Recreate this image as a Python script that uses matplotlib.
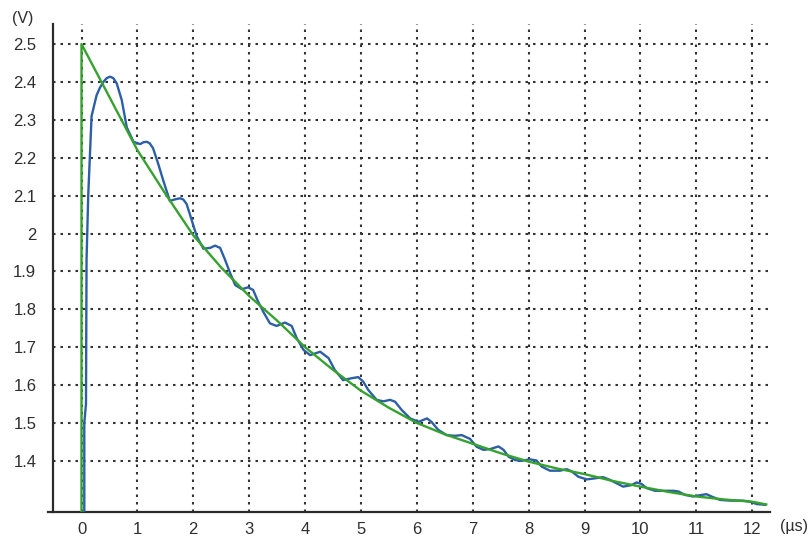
import matplotlib
matplotlib.use("Agg")
import matplotlib.pyplot as plt

plt.rcParams['font.family'] = ['Liberation Sans', 'DejaVu Sans']

# green: ideal decay (µs, V), vertical step at t=0
green_t = [0, 0, 0.5, 1, 1.5, 2, 2.5, 3, 3.5, 4, 4.5, 5, 5.5, 6, 6.5, 7, 7.5,
           8, 8.5, 9, 9.5, 10, 10.5, 11, 11.5, 12, 12.25]
green_v = [1.2, 2.5, 2.36, 2.22, 2.105, 1.995, 1.91, 1.835, 1.77, 1.70, 1.64,
           1.585, 1.54, 1.50, 1.47, 1.445, 1.42, 1.398, 1.38, 1.365, 1.347,
           1.332, 1.318, 1.306, 1.298, 1.292, 1.285]

# blue: measured waveform
blue_t = [0.05, 0.05, 0.08, 0.09, 0.12, 0.18, 0.27, 0.33, 0.39, 0.45, 0.51, 0.57, 0.63,
          0.72, 0.81, 0.93, 1.05, 1.11, 1.17, 1.22, 1.28, 1.37, 1.46, 1.58, 1.67, 1.76,
          1.82, 1.88, 1.97, 2.06, 2.18, 2.30, 2.39, 2.48, 2.57, 2.66, 2.75, 2.87, 2.98,
          3.07, 3.16, 3.25, 3.37, 3.49, 3.64, 3.76, 3.85, 3.97, 4.09, 4.27, 4.42, 4.53,
          4.68, 4.83, 4.95, 5.04, 5.13, 5.28, 5.40, 5.52, 5.61, 5.73, 5.88, 6.03, 6.18,
          6.26, 6.38, 6.53, 6.68, 6.80, 6.95, 7.07, 7.19, 7.31, 7.46, 7.55, 7.64, 7.76,
          7.87, 8.02, 8.14, 8.23, 8.38, 8.56, 8.68, 8.77, 8.89, 9.04, 9.19, 9.33, 9.45,
          9.57, 9.69, 9.84, 9.93, 10.02, 10.11, 10.26, 10.41, 10.59, 10.68, 10.80,
          10.94, 11.09, 11.18, 11.27, 11.42, 11.60, 11.84, 11.96, 12.08, 12.23]
blue_v = [1.2, 1.50, 1.55, 1.93, 2.10, 2.31, 2.365, 2.385, 2.40, 2.41, 2.414, 2.41, 2.396,
          2.352, 2.28, 2.242, 2.236, 2.241, 2.242, 2.238, 2.225, 2.185, 2.141, 2.086, 2.09, 2.093,
          2.09, 2.078, 2.036, 1.993, 1.96, 1.962, 1.968, 1.962, 1.93, 1.895, 1.864, 1.853, 1.858,
          1.851, 1.82, 1.794, 1.763, 1.756, 1.765, 1.756, 1.724, 1.693, 1.679, 1.688, 1.671, 1.64,
          1.613, 1.618, 1.621, 1.609, 1.587, 1.561, 1.557, 1.561, 1.556, 1.534, 1.512, 1.503, 1.512,
          1.503, 1.482, 1.468, 1.466, 1.468, 1.458, 1.437, 1.429, 1.431, 1.438, 1.429, 1.411, 1.402,
          1.40, 1.404, 1.401, 1.385, 1.374, 1.374, 1.378, 1.372, 1.358, 1.351, 1.354, 1.357, 1.350,
          1.341, 1.332, 1.336, 1.343, 1.339, 1.328, 1.321, 1.321, 1.321, 1.319, 1.310,
          1.306, 1.310, 1.312, 1.306, 1.297, 1.295, 1.295, 1.292, 1.286, 1.284]

x_ticks = list(range(0, 13))
y_ticks = [1.4, 1.5, 1.6, 1.7, 1.8, 1.9, 2.0, 2.1, 2.2, 2.3, 2.4, 2.5]
y_labels = ['1.4', '1.5', '1.6', '1.7', '1.8', '1.9', '2', '2.1', '2.2', '2.3', '2.4', '2.5']

x_min, x_max = -0.6, 12.32
y_min, y_max = 1.265, 2.553
spine_x = -0.51
text_col = '#2e2e2e'
grid_kw = dict(color='#333333', lw=1.5, linestyle=(0, (1.2, 2.4)), zorder=1)

fig = plt.figure(figsize=(8.09, 5.39), dpi=100)
ax = fig.add_axes([0.0593, 0.0501, 0.8927, 0.9054])
ax.set_xlim(x_min, x_max)
ax.set_ylim(y_min, y_max)

ax.hlines(y_ticks, spine_x, x_max, **grid_kw)
ax.vlines(x_ticks, y_min, y_max, **grid_kw)

ax.plot(blue_t, blue_v, color='#2d5fa6', lw=1.7, solid_joinstyle='round', zorder=3)
ax.plot(green_t, green_v, color='#35a22e', lw=1.7, solid_joinstyle='round', zorder=4)

for s in ['top', 'right']:
    ax.spines[s].set_visible(False)
ax.spines['left'].set_position(('data', spine_x))
ax.spines['left'].set_color('#2b2b2b')
ax.spines['left'].set_linewidth(1.6)
ax.spines['bottom'].set_color('#2b2b2b')
ax.spines['bottom'].set_linewidth(1.6)

ax.set_xticks(x_ticks)
ax.set_xticklabels([str(t) for t in x_ticks])
ax.set_yticks(y_ticks)
ax.set_yticklabels(y_labels)
ax.tick_params(axis='x', length=0, pad=7, labelsize=12, labelcolor=text_col)
ax.tick_params(axis='y', length=0, pad=12, labelsize=12, labelcolor=text_col)

fig.text(23 / 809, 1 - 19 / 539, '(V)', ha='center', va='center', fontsize=11.5, color=text_col)
fig.text(794 / 809, 1 - 527 / 539, '(µs)', ha='center', va='center', fontsize=11.5, color=text_col)

fig.savefig('out.png', dpi=100)
